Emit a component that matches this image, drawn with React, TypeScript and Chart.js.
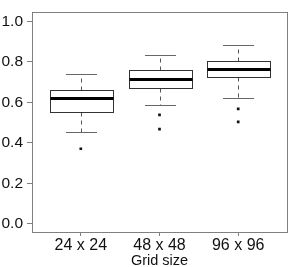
import React, { useEffect, useRef } from 'react';
import { Chart, registerables } from 'chart.js';
Chart.register(...registerables);

const categories = ['24 x 24', '48 x 48', '96 x 96'];
const positions = [1, 2, 3];
const lowerWhisker = [0.456, 0.588, 0.621];
const q1 = [0.552, 0.672, 0.725];
const median = [0.62, 0.714, 0.764];
const q3 = [0.66, 0.758, 0.803];
const upperWhisker = [0.74, 0.834, 0.881];
const outlierX = [1, 2, 2, 3, 3];
const outlierY = [0.371, 0.538, 0.468, 0.568, 0.504];
const yTicks = [0, 0.2, 0.4, 0.6, 0.8, 1.0];
const xTitle = 'Grid size';

const FONT = "'Liberation Sans', Arial, Helvetica, sans-serif";

const snap = (v: number) => Math.round(v) + 0.5;

const boxPlugin = {
  id: 'boxes',
  beforeDatasetsDraw(chart: any) {
    const { ctx } = chart;
    const x = chart.scales.x;
    const y = chart.scales.y;
    const line = (x1: number, y1: number, x2: number, y2: number) => {
      ctx.beginPath();
      ctx.moveTo(x1, y1);
      ctx.lineTo(x2, y2);
      ctx.stroke();
    };
    ctx.save();
    positions.forEach((p, i) => {
      const cx = snap(x.getPixelForValue(p));
      const half = x.getPixelForValue(p + 0.4) - x.getPixelForValue(p);
      const capHalf = half / 2;
      const yLw = snap(y.getPixelForValue(lowerWhisker[i]));
      const yQ1 = snap(y.getPixelForValue(q1[i]));
      const yMed = Math.round(y.getPixelForValue(median[i]));
      const yQ3 = snap(y.getPixelForValue(q3[i]));
      const yUw = snap(y.getPixelForValue(upperWhisker[i]));
      // whiskers
      ctx.lineWidth = 1;
      ctx.strokeStyle = '#555';
      ctx.setLineDash([4, 4]);
      line(cx, yQ3, cx, yUw);
      line(cx, yQ1, cx, yLw);
      ctx.setLineDash([]);
      // caps
      ctx.strokeStyle = '#666';
      line(Math.round(cx - capHalf), yUw, Math.round(cx + capHalf), yUw);
      line(Math.round(cx - capHalf), yLw, Math.round(cx + capHalf), yLw);
      // box
      const bx1 = snap(cx - half);
      const bx2 = snap(cx + half);
      ctx.fillStyle = '#ffffff';
      ctx.fillRect(bx1, yQ3, bx2 - bx1, yQ1 - yQ3);
      ctx.strokeStyle = '#333';
      ctx.strokeRect(bx1, yQ3, bx2 - bx1, yQ1 - yQ3);
      // median
      ctx.lineWidth = 3;
      ctx.strokeStyle = '#000';
      line(bx1, yMed + 0.5, bx2, yMed + 0.5);
    });
    ctx.restore();
  },
  afterDraw(chart: any) {
    const { ctx, chartArea } = chart;
    ctx.save();
    ctx.strokeStyle = '#808080';
    ctx.lineWidth = 1;
    const l = snap(chartArea.left);
    const t = Math.round(chartArea.top) - 0.5;
    const r = snap(chartArea.right);
    const b = snap(chartArea.bottom);
    ctx.strokeRect(l, t, r - l, b - t);
    ctx.restore();
  },
};

export default function App() {
  const ref = useRef<HTMLCanvasElement>(null);
  useEffect(() => {
    if (!ref.current) return;
    const chart = new Chart(ref.current, {
      type: 'scatter',
      data: {
        datasets: [
          {
            data: outlierX.map((v, i) => ({ x: v, y: outlierY[i] })),
            pointStyle: 'rect',
            radius: 1.9,
            backgroundColor: '#111',
            borderWidth: 0,
          },
        ],
      },
      options: {
        animation: false,
        responsive: false,
        layout: { padding: { top: 1, right: 2, left: 0, bottom: 0 } },
        plugins: { legend: { display: false }, tooltip: { enabled: false } },
        scales: {
          x: {
            type: 'linear',
            min: 0.38,
            max: 3.62,
            afterBuildTicks: (s: any) => {
              s.ticks = positions.map((v) => ({ value: v }));
            },
            afterFit: (s: any) => {
              s.height = 35;
            },
            grid: { drawOnChartArea: false, drawTicks: true, tickLength: 4, color: '#808080' },
            border: { display: false },
            ticks: {
              padding: 0,
              color: '#111',
              font: { family: FONT, size: 16 },
              maxRotation: 0,
              callback: (v: any) => categories[positions.indexOf(Number(v))] ?? '',
            },
            title: {
              display: true,
              text: xTitle,
              color: '#111',
              font: { family: FONT, size: 14.5 },
              padding: { top: 0, bottom: -3 },
            },
          },
          y: {
            type: 'linear',
            min: -0.04,
            max: 1.04,
            afterBuildTicks: (s: any) => {
              s.ticks = yTicks.map((v) => ({ value: v }));
            },
            afterFit: (s: any) => {
              s.width = 32;
            },
            grid: { drawOnChartArea: false, drawTicks: true, tickLength: 5, color: '#808080' },
            border: { display: false },
            ticks: {
              padding: 4,
              color: '#111',
              font: { family: FONT, size: 15.5 },
              callback: (v: any) => Number(v).toFixed(1),
            },
          },
        },
      },
      plugins: [boxPlugin],
    } as any);
    return () => chart.destroy();
  }, []);
  return (
    <div style={{ position: 'fixed', left: 0, top: 0, width: 291, height: 267, background: '#fff' }}>
      <canvas ref={ref} width={291} height={267} style={{ display: 'block' }} />
    </div>
  );
}
